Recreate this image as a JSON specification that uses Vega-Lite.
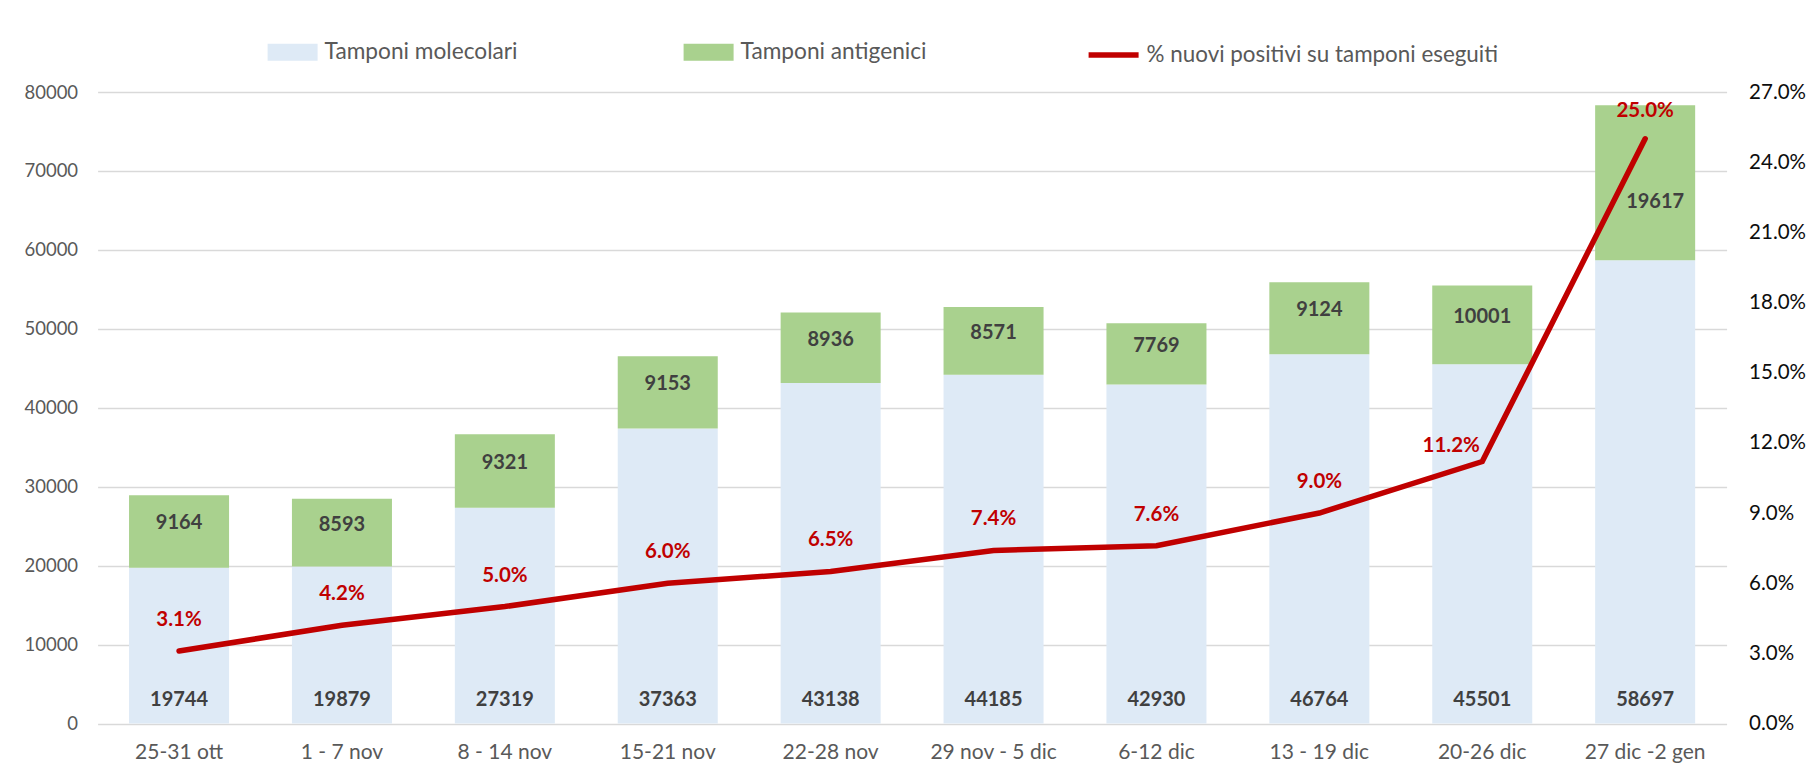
{
  "$schema": "https://vega.github.io/schema/vega-lite/v6.json",
  "autosize": "none",
  "width": 1629,
  "height": 631.5,
  "padding": {"left": 97.6, "top": 92, "right": 85.4, "bottom": 41.5},
  "background": "#ffffff",
  "config": {
    "font": "Lato",
    "view": {"stroke": null}
  },
  "data": {
    "values": [
      {"week": "25-31 ott", "mol": 19744, "ant": 9164, "pct": 0.031},
      {"week": "1 - 7 nov", "mol": 19879, "ant": 8593, "pct": 0.042},
      {"week": "8 - 14 nov", "mol": 27319, "ant": 9321, "pct": 0.050},
      {"week": "15-21 nov", "mol": 37363, "ant": 9153, "pct": 0.060},
      {"week": "22-28 nov", "mol": 43138, "ant": 8936, "pct": 0.065},
      {"week": "29 nov - 5 dic", "mol": 44185, "ant": 8571, "pct": 0.074},
      {"week": "6-12 dic", "mol": 42930, "ant": 7769, "pct": 0.076},
      {"week": "13 - 19 dic", "mol": 46764, "ant": 9124, "pct": 0.090},
      {"week": "20-26 dic", "mol": 45501, "ant": 10001, "pct": 0.112},
      {"week": "27 dic -2 gen", "mol": 58697, "ant": 19617, "pct": 0.250}
    ]
  },
  "encoding": {
    "x": {
      "field": "week",
      "type": "nominal",
      "sort": null,
      "scale": {
        "domain": ["25-31 ott", "1 - 7 nov", "8 - 14 nov", "15-21 nov", "22-28 nov", "29 nov - 5 dic", "6-12 dic", "13 - 19 dic", "20-26 dic", "27 dic -2 gen"],
        "paddingInner": 0.386,
        "paddingOuter": 0.193
      },
      "axis": {
        "title": null,
        "labelAngle": 0,
        "ticks": false,
        "domain": false,
        "labelPadding": 18,
        "labelFontSize": 21,
        "labelColor": "#595959",
        "labelBaseline": "top"
      }
    }
  },
  "layer": [
    {
      "layer": [
        {
          "transform": [
            {"fold": ["mol", "ant"], "as": ["key", "n"]},
            {"stack": "n", "groupby": ["week"], "sort": [{"field": "key", "order": "descending"}], "as": ["y0", "y1"]}
          ],
          "mark": {"type": "bar"},
          "encoding": {
            "y": {
              "field": "y0",
              "type": "quantitative",
              "scale": {"domain": [0, 80000], "nice": false},
              "axis": {
                "title": null,
                "orient": "left",
                "values": [0, 10000, 20000, 30000, 40000, 50000, 60000, 70000, 80000],
                "format": "d",
                "grid": true,
                "gridColor": "#D9D9D9",
                "gridWidth": 1.3,
                "domain": false,
                "ticks": false,
                "labelPadding": 20,
                "labelFontSize": 18.5,
                "labelColor": "#595959"
              }
            },
            "y2": {"field": "y1"},
            "color": {
              "field": "key",
              "type": "nominal",
              "scale": {"domain": ["mol", "ant"], "range": ["#DEEAF6", "#A9D18E"]},
              "legend": {
                "title": null,
                "orient": "none",
                "legendX": 170,
                "legendY": -65,
                "direction": "horizontal",
                "symbolType": "M-1,-0.34H1V0.34H-1Z",
                "symbolSize": 2500,
                "symbolStrokeWidth": 0,
                "labelOffset": 7,
                "labelFontSize": 22.7,
                "labelLimit": 0,
                "labelColor": "#595959",
                "columnPadding": 166,
                "padding": 0,
                "labelExpr": "datum.value == 'mol' ? 'Tamponi molecolari' : 'Tamponi antigenici'"
              }
            }
          }
        },
        {
          "mark": {"type": "text", "fontWeight": "bold", "fontSize": 20, "color": "#404040", "dy": -24, "baseline": "middle"},
          "encoding": {
            "y": {"datum": 0, "type": "quantitative", "axis": {"title": null}},
            "text": {"field": "mol", "type": "quantitative", "format": "d"}
          }
        },
        {
          "transform": [
            {"filter": "datum.ant < 15000"},
            {"fold": ["mol", "ant"], "as": ["key", "n"]},
            {"stack": "n", "groupby": ["week"], "sort": [{"field": "key", "order": "descending"}], "as": ["y0", "y1"]},
            {"filter": "datum.key == 'ant'"},
            {"fold": ["y0", "y1"], "as": ["edge", "pos"]},
            {"aggregate": [{"op": "mean", "field": "pos", "as": "mid"}], "groupby": ["week", "n"]}
          ],
          "mark": {"type": "text", "fontWeight": "bold", "fontSize": 20, "color": "#404040", "baseline": "middle", "dy": -8},
          "encoding": {
            "y": {"field": "mid", "type": "quantitative", "axis": {"title": null}},
            "text": {"field": "n", "type": "quantitative", "format": "d"}
          }
        },
        {
          "transform": [
            {"filter": "datum.ant > 15000"},
            {"fold": ["mol", "ant"], "as": ["key", "n"]},
            {"stack": "n", "groupby": ["week"], "sort": [{"field": "key", "order": "descending"}], "as": ["y0", "y1"]},
            {"filter": "datum.key == 'ant'"},
            {"fold": ["y0", "y1"], "as": ["edge", "pos"]},
            {"aggregate": [{"op": "mean", "field": "pos", "as": "mid"}], "groupby": ["week", "n"]}
          ],
          "mark": {"type": "text", "fontWeight": "bold", "fontSize": 20, "color": "#404040", "baseline": "middle", "dx": 10, "dy": 19},
          "encoding": {
            "y": {"field": "mid", "type": "quantitative", "axis": {"title": null}},
            "text": {"field": "n", "type": "quantitative", "format": "d"}
          }
        }
      ]
    },
    {
      "layer": [
        {
          "mark": {"type": "line", "strokeWidth": 5.5, "strokeCap": "round"},
          "encoding": {
            "y": {
              "field": "pct",
              "type": "quantitative",
              "scale": {"domain": [0, 0.27], "nice": false},
              "axis": {
                "title": null,
                "orient": "right",
                "values": [0, 0.03, 0.06, 0.09, 0.12, 0.15, 0.18, 0.21, 0.24, 0.27],
                "format": ".1%",
                "grid": false,
                "domain": false,
                "ticks": false,
                "labelPadding": 22,
                "labelFontSize": 20.5,
                "labelColor": "#0d0d0d"
              }
            },
            "stroke": {
              "datum": "% nuovi positivi su tamponi eseguiti",
              "type": "nominal",
              "scale": {"range": ["#C00000"]},
              "legend": {
                "title": null,
                "orient": "none",
                "legendX": 988,
                "legendY": -65,
                "symbolType": "stroke",
                "symbolSize": 2500,
                "symbolStrokeWidth": 5.5,
                "labelOffset": 5,
                "labelFontSize": 22.4,
                "labelLimit": 0,
                "labelColor": "#595959",
                "padding": 0
              }
            }
          }
        },
        {
          "transform": [{"filter": "datum.pct < 0.1"}],
          "mark": {"type": "text", "fontWeight": "bold", "fontSize": 20.5, "color": "#C00000", "dy": -31, "baseline": "middle"},
          "encoding": {
            "y": {"field": "pct", "type": "quantitative", "axis": {"title": null}},
            "text": {"field": "pct", "type": "quantitative", "format": ".1%"}
          }
        },
        {
          "transform": [{"filter": "datum.pct > 0.2"}],
          "mark": {"type": "text", "fontWeight": "bold", "fontSize": 20.5, "color": "#C00000", "dy": -28, "baseline": "middle"},
          "encoding": {
            "y": {"field": "pct", "type": "quantitative", "axis": {"title": null}},
            "text": {"field": "pct", "type": "quantitative", "format": ".1%"}
          }
        },
        {
          "transform": [{"filter": "datum.pct > 0.1 && datum.pct < 0.2"}],
          "mark": {"type": "text", "fontWeight": "bold", "fontSize": 20.5, "color": "#C00000", "dx": -31, "dy": -16, "baseline": "middle"},
          "encoding": {
            "y": {"field": "pct", "type": "quantitative", "axis": {"title": null}},
            "text": {"field": "pct", "type": "quantitative", "format": ".1%"}
          }
        }
      ]
    }
  ],
  "resolve": {"scale": {"y": "independent"}}
}
